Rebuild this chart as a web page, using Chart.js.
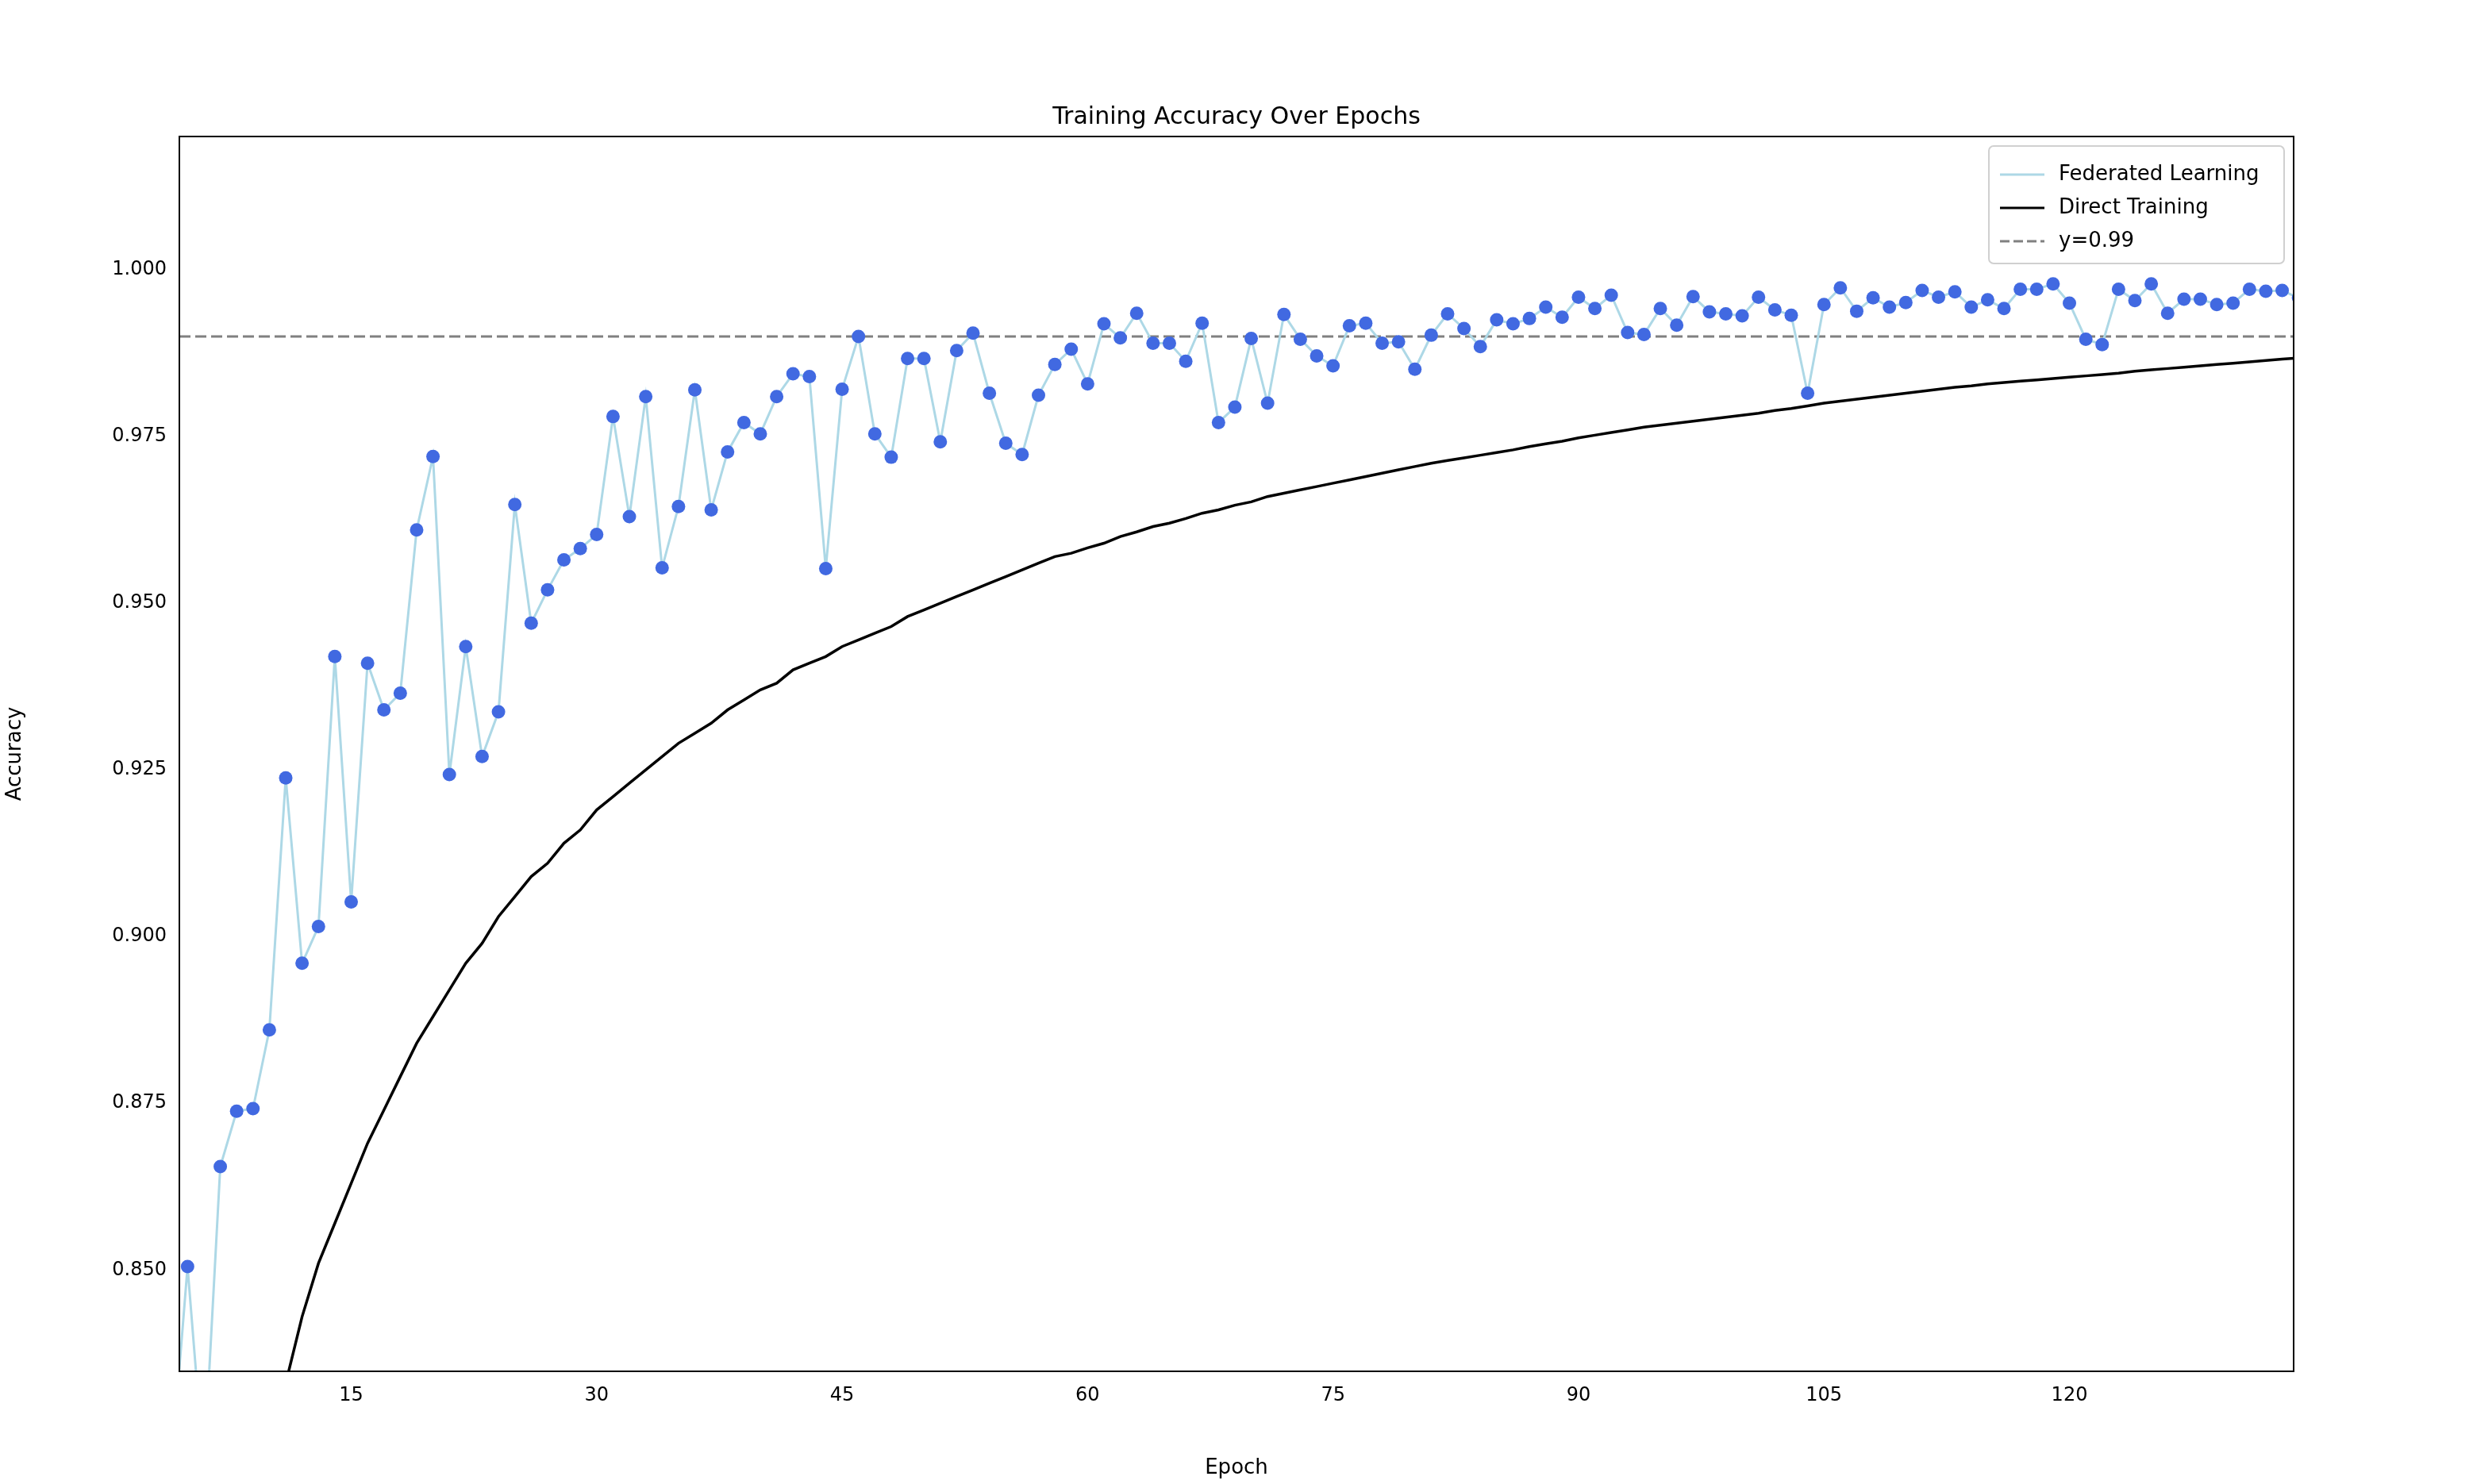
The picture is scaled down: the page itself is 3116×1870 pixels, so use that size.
<!DOCTYPE html>
<html><head><meta charset="utf-8">
<script src="https://cdn.jsdelivr.net/npm/chart.js@4/dist/chart.umd.min.js"></script>
<style>html,body{margin:0;padding:0;background:#fff}#wrap{width:3116px;height:1870px}</style>
</head><body><div id="wrap"><canvas id="c" width="3116" height="1870"></canvas></div>
<script>
const fedEpochs = Array.from({length:131},(_,i)=>i+4);
const fedAcc = [0.82,0.8505,0.82,0.8655,0.8738,0.8742,0.886,0.9238,0.896,0.9015,0.942,0.9052,0.941,0.934,0.9365,0.961,0.972,0.9243,0.9435,0.927,0.9337,0.9648,0.947,0.952,0.9565,0.9582,0.9603,0.978,0.963,0.981,0.9553,0.9645,0.982,0.964,0.9727,0.9771,0.9754,0.981,0.9844,0.984,0.9552,0.9821,0.990,0.9754,0.9719,0.9867,0.9867,0.9742,0.9879,0.9905,0.9815,0.974,0.9723,0.9812,0.9858,0.9881,0.9829,0.9919,0.9898,0.9935,0.989,0.989,0.9863,0.992,0.9771,0.9794,0.9897,0.980,0.9933,0.9896,0.9871,0.9856,0.9916,0.992,0.989,0.9892,0.9851,0.9902,0.9934,0.9912,0.9885,0.9925,0.9919,0.9927,0.9944,0.9929,0.9959,0.9942,0.9962,0.9906,0.9903,0.9942,0.9917,0.996,0.9937,0.9934,0.9931,0.9959,0.994,0.9932,0.9815,0.9948,0.9973,0.9938,0.9958,0.9944,0.9951,0.9969,0.9959,0.9967,0.9944,0.9955,0.9942,0.9971,0.9971,0.9979,0.995,0.9896,0.9888,0.9971,0.9954,0.9979,0.9935,0.9956,0.9956,0.9948,0.995,0.9971,0.9968,0.9969,0.9958];
const directEpochs = Array.from({length:125},(_,i)=>i+10);
const directAcc = [0.822,0.833,0.843,0.851,0.857,0.863,0.869,0.874,0.879,0.884,0.888,0.892,0.896,0.899,0.903,0.906,0.909,0.911,0.914,0.916,0.919,0.921,0.923,0.925,0.927,0.929,0.9305,0.932,0.934,0.9355,0.937,0.938,0.940,0.941,0.942,0.9435,0.9445,0.9455,0.9465,0.948,0.949,0.950,0.951,0.952,0.953,0.954,0.955,0.956,0.957,0.9575,0.9583,0.959,0.960,0.9607,0.9615,0.962,0.9627,0.9635,0.964,0.9647,0.9652,0.966,0.9665,0.967,0.9675,0.968,0.9685,0.969,0.9695,0.970,0.9705,0.971,0.9714,0.9718,0.9722,0.9726,0.973,0.9735,0.9739,0.9743,0.9748,0.9752,0.9756,0.976,0.9764,0.9767,0.977,0.9773,0.9776,0.9779,0.9782,0.9785,0.9789,0.9792,0.9796,0.980,0.9803,0.9806,0.9809,0.9812,0.9815,0.9818,0.9821,0.9824,0.9826,0.9829,0.9831,0.9833,0.9835,0.9837,0.9839,0.9841,0.9843,0.9845,0.9848,0.985,0.9852,0.9854,0.9856,0.9858,0.986,0.9862,0.9864,0.9866,0.9868];
const xTicks = [15,30,45,60,75,90,105,120];
const yTicks = [0.85,0.875,0.9,0.925,0.95,0.975,1.0];
const threshold = 0.99;
const X_MIN = 4.5, X_MAX = 133.7, Y_MIN = 0.8348, Y_MAX = 1.02;

const F = "'DejaVu Sans', sans-serif";
const frame = {
  id:'frame',
  afterDraw(ch){
    const {ctx, chartArea:a} = ch;
    ctx.save();
    ctx.strokeStyle='#000'; ctx.lineWidth=2;
    ctx.strokeRect(a.left,a.top,a.right-a.left,a.bottom-a.top);
    ctx.fillStyle='#000'; ctx.font="30px "+F; ctx.textAlign='center'; ctx.textBaseline='alphabetic';
    ctx.fillText('Training Accuracy Over Epochs',(a.left+a.right)/2,a.top-16);
    // legend
    const items=[['Federated Learning','#add8e6',[]],['Direct Training','#000',[]],['y=0.99','#808080',[12,5]]];
    ctx.font="26px "+F;
    const w=372,h=148,x0=a.right-w-12,y0=a.top+12;
    ctx.fillStyle='rgba(255,255,255,0.8)'; ctx.strokeStyle='#d0d0d0'; ctx.lineWidth=2;
    ctx.beginPath(); ctx.roundRect(x0,y0,w,h,6); ctx.fill(); ctx.stroke();
    items.forEach((it,i)=>{
      const yy=y0+36+i*42;
      ctx.strokeStyle=it[1]; ctx.lineWidth=3; ctx.setLineDash(it[2]);
      ctx.beginPath(); ctx.moveTo(x0+14,yy); ctx.lineTo(x0+70,yy); ctx.stroke();
      ctx.setLineDash([]);
      ctx.fillStyle='#000'; ctx.textAlign='left'; ctx.textBaseline='middle';
      ctx.fillText(it[0],x0+88,yy);
    });
    ctx.restore();
  }
};
new Chart(document.getElementById('c'),{
  type:'scatter',
  data:{datasets:[
    {label:'Direct Training',data:directEpochs.map((e,i)=>({x:e,y:directAcc[i]})),showLine:true,borderColor:'#000',borderWidth:3.5,pointRadius:0,order:3},
    {label:'y=0.99',data:[{x:X_MIN,y:threshold},{x:X_MAX,y:threshold}],showLine:true,borderColor:'#808080',borderWidth:3,borderDash:[14,6],pointRadius:0,order:2},
    {label:'Federated Learning',data:fedEpochs.map((e,i)=>({x:e,y:fedAcc[i]})),showLine:true,borderColor:'#add8e6',borderWidth:3,pointRadius:8.5,pointBackgroundColor:'#4169e1',pointBorderColor:'#4169e1',pointBorderWidth:0,order:1}
  ]},
  options:{
    responsive:false,animation:false,devicePixelRatio:1,
    layout:{padding:{top:172,right:226,left:0,bottom:0}},
    plugins:{legend:{display:false},tooltip:{enabled:false}},
    scales:{
      x:{type:'linear',min:X_MIN,max:X_MAX,
        afterBuildTicks(s){s.ticks=xTicks.map(v=>({value:v}));},
        afterFit(s){s.height=142;},
        grid:{display:false,drawTicks:true,tickLength:10,tickColor:'#000'},border:{display:true,color:'#000',width:2},
        ticks:{color:'#000',font:{size:24,family:F},padding:6,maxRotation:0},
        title:{display:true,text:'Epoch',color:'#000',font:{size:26,family:F},padding:{top:6}}},
      y:{min:Y_MIN,max:Y_MAX,
        afterBuildTicks(s){s.ticks=yTicks.map(v=>({value:v}));},
        afterFit(s){s.width=226;},
        grid:{display:false,drawTicks:true,tickLength:10,tickColor:'#000'},border:{display:true,color:'#000',width:2},
        ticks:{color:'#000',font:{size:24,family:F},padding:6,callback:v=>v.toFixed(3)},
        title:{display:true,text:'Accuracy',color:'#000',font:{size:26,family:F},padding:{bottom:14}}}
    }
  },
  plugins:[frame]
});
</script></body></html>
